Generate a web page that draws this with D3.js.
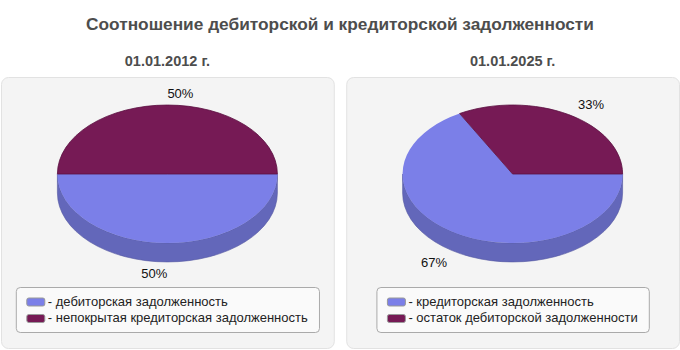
<!DOCTYPE html>
<html>
<head>
<meta charset="utf-8">
<script src="https://cdn.jsdelivr.net/npm/d3@7"></script>
<style>
  body { margin: 0; background: #fff; }
  svg { display: block; font-family: "Liberation Sans", Arial, sans-serif; }
</style>
</head>
<body>
<div id="box"></div>
<script>
'use strict';

var width = 680, height = 350;

var chartTitle = "Соотношение дебиторской и кредиторской задолженности";
var dates = ["01.01.2012 г.", "01.01.2025 г."];
var leftLabels = ["дебиторская задолженность", "непокрытая кредиторская задолженность"];
var leftValues = [50, 50];
var rightLabels = ["кредиторская задолженность", "остаток дебиторской задолженности"];
var rightValues = [67, 33];
var colors = ["#7b7fe8", "#761a55"];
var sideColors = ["#6367ba", "#5a1242"];

var panels = [
  { date: dates[0], labels: leftLabels, values: leftValues },
  { date: dates[1], labels: rightLabels, values: rightValues }
];

var svg = d3.select("#box")
  .append("svg")
    .attr("width", width)
    .attr("height", height);

svg.append("text")
  .attr("x", width / 2)
  .attr("y", 30)
  .attr("text-anchor", "middle")
  .style("font-size", "17.3px")
  .style("font-weight", "bold")
  .style("fill", "#4d4d4d")
  .text(chartTitle);

// panel positions
var px = d3.scaleBand().domain([0, 1]).range([1, 679]).paddingInner(0.036);

var rx = 110, ry = 69, depth = 19;

function pt(cx, cy, a, k) {
  k = k || 1;
  return [cx + rx * k * Math.sin(a), cy - ry * k * Math.cos(a)];
}

panels.forEach(function(p, i) {
  var x0 = px(i), w = px.bandwidth();
  var cx = x0 + w / 2, cy = 174;
  var g = svg.append("g");

  g.append("text")
    .attr("x", cx)
    .attr("y", 66)
    .attr("text-anchor", "middle")
    .style("font-size", "14.5px")
    .style("font-weight", "bold")
    .style("fill", "#4d4d4d")
    .text(p.date);

  g.append("rect")
    .attr("x", x0 + 0.5).attr("y", 77.5)
    .attr("width", w).attr("height", 271)
    .attr("rx", 7)
    .attr("fill", "#f4f4f4")
    .attr("stroke", "#e2e2e2");

  var arcs = d3.pie().sort(null)
    .startAngle(Math.PI / 2)
    .endAngle(Math.PI / 2 + 2 * Math.PI)(p.values);

  // side walls (front half only)
  arcs.forEach(function(d, j) {
    [Math.PI / 2, Math.PI / 2 + 2 * Math.PI].forEach(function(fs) {
      var s = Math.max(d.startAngle, fs), e = Math.min(d.endAngle, fs + Math.PI);
      if (e <= s) return;
      var a = pt(cx, cy, s), b = pt(cx, cy, e);
      var sp = "M" + a + " A" + rx + "," + ry + " 0 0 1 " + b +
        " L" + b[0] + "," + (b[1] + depth) +
        " A" + rx + "," + ry + " 0 0 0 " + a[0] + "," + (a[1] + depth) + " Z";
      g.append("path")
        .attr("d", sp)
        .attr("fill", sideColors[j])
        .attr("stroke", d3.color(sideColors[j]).darker(0.4))
        .attr("stroke-width", 0.6);
    });
  });

  // top slices
  arcs.forEach(function(d, j) {
    var a = pt(cx, cy, d.startAngle), b = pt(cx, cy, d.endAngle);
    var large = (d.endAngle - d.startAngle) > Math.PI ? 1 : 0;
    g.append("path")
      .attr("d", "M" + cx + "," + cy + " L" + a + " A" + rx + "," + ry + " 0 " + large + " 1 " + b + " Z")
      .attr("fill", colors[j])
      .attr("stroke", j === 1 ? "#5a0f40" : "none")
      .attr("stroke-width", 0.8);
  });

  // percent labels
  var total = d3.sum(p.values);
  arcs.forEach(function(d) {
    var m = (d.startAngle + d.endAngle) / 2;
    var c = pt(cx, cy, m, 1.17);
    var front = Math.cos(m) < 0;
    g.append("text")
      .attr("x", c[0])
      .attr("y", c[1] + (front ? depth : 0))
      .attr("dy", "0.35em")
      .attr("text-anchor", front ? "end" : "start")
      .style("font-size", "13px")
      .style("fill", "#111")
      .text(Math.round(d.value / total * 100) + "%");
  });

  // legend
  var lg = g.append("g");
  var items = lg.selectAll("g.item")
    .data(p.labels)
    .enter().append("g")
      .attr("transform", function(d, k) { return "translate(0," + (k * 16.5) + ")"; });
  items.append("rect")
    .attr("x", 0).attr("y", -7)
    .attr("width", 18).attr("height", 8)
    .attr("rx", 2)
    .attr("fill", function(d, k) { return colors[k]; })
    .attr("stroke", "#999")
    .attr("stroke-width", 1);
  items.append("text")
    .attr("x", 21).attr("y", 0.5)
    .style("font-size", "13px")
    .style("fill", "#222")
    .text(function(d) { return "- " + d; });
  var bb = lg.node().getBBox();
  var lw = bb.width + 22;
  lg.attr("transform", "translate(" + (cx - lw / 2 + 11) + ",305)");
  g.insert("rect", function() { return lg.node(); })
    .attr("x", cx - lw / 2 + 0.5).attr("y", 287.5)
    .attr("width", lw).attr("height", 45)
    .attr("rx", 4)
    .attr("fill", "#fafafa")
    .attr("stroke", "#aaa");
});
</script>
</body>
</html>
